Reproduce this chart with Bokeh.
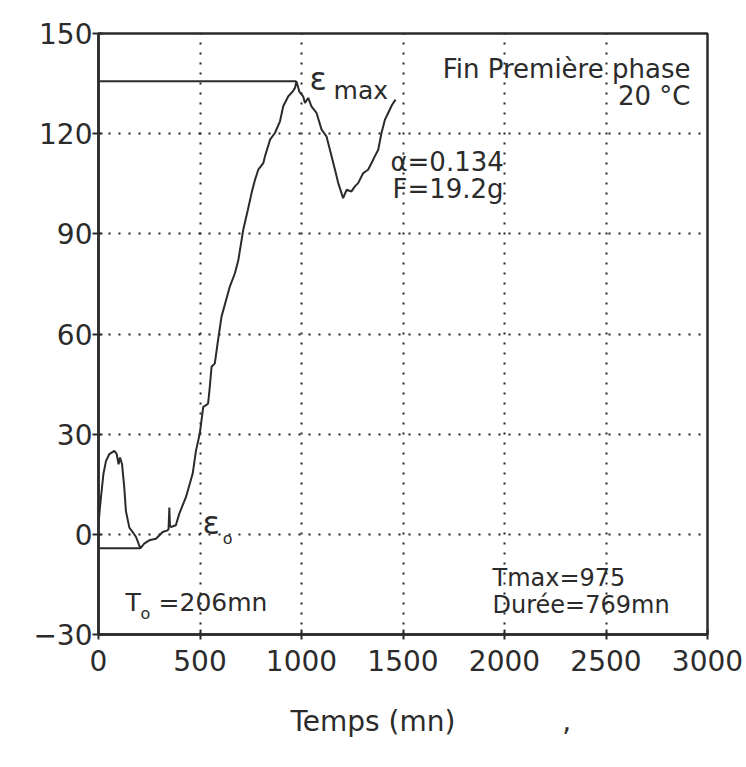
from bokeh.plotting import figure
from bokeh.models import Label, Range1d, FixedTicker, Title
from bokeh.embed import file_html
from bokeh.resources import INLINE

# ---- data ----
temps = [0, 7, 12, 24, 37, 53, 78, 90, 99, 106, 116, 127, 135, 152, 168, 185, 206,
         225, 250, 283, 316, 340, 345, 349, 352, 357, 381, 398, 431, 464, 480, 499,
         516, 528, 540, 548, 557, 573, 589, 606, 630, 647, 672, 689, 713, 735, 754,
         770, 787, 812, 820, 845, 869, 894, 910, 935, 955, 968, 975, 990, 1008, 1017,
         1033, 1049, 1074, 1099, 1123, 1140, 1165, 1181, 1197, 1205, 1222, 1246, 1263,
         1279, 1304, 1328, 1345, 1361, 1378, 1394, 1411, 1427, 1445, 1463]
deformation = [3, 8, 11, 18, 22, 24, 25, 24, 21, 23, 21, 14, 7, 2, 0.7, -0.8, -4.2,
               -2.8, -1.8, -1.3, 0.7, 1.2, 1.5, 8, 2.5, 2.2, 2.7, 6.2, 11.2, 18.2, 25, 30.2,
               38.2, 38.6, 39.2, 44, 50.2, 51.2, 58.2, 65.2, 70.5, 74.2, 78.2, 82.2, 91.2, 97, 102.2,
               106, 109.2, 111.2, 113.2, 118.2, 120.2, 123.7, 128.2, 131.2, 132.5, 133.7, 135.7, 132.5, 131.2, 129.2,
               130.7, 128.2, 126.2, 121.2, 119.2, 115.2, 109.2, 105.2, 102.2, 100.7, 103.2, 102.7, 104.2,
               105.2, 108.2, 109.2, 111.2, 113.2, 115.2, 120.2, 124.2, 126.2, 128.5, 130.2]

t_max = 975
e_max = 135.7
t_zero = 206
e_zero = -4.2

x_ticks = [0, 500, 1000, 1500, 2000, 2500, 3000]
y_ticks = [-30, 0, 30, 60, 90, 120, 150]
y_tick_labels = ["\u221230", "0", "30", "60", "90", "120", "150"]
x_title = "Temps (mn)"

INK = "#2b2b2b"
FONT = "DejaVu Sans"

p = figure(width=746, height=767, output_backend="svg", toolbar_location=None,
           x_range=Range1d(0, 3000), y_range=Range1d(-30, 150),
           min_border_left=98, min_border_right=39, min_border_top=33, min_border_bottom=133)
p.background_fill_color = "white"
p.border_fill_color = "white"
p.outline_line_color = INK
p.outline_line_width = 2.5

# axes
p.xaxis.ticker = FixedTicker(ticks=x_ticks)
p.yaxis.ticker = FixedTicker(ticks=y_ticks)
p.yaxis.major_label_overrides = {t: l for t, l in zip(y_ticks, y_tick_labels)}
for ax in (p.xaxis[0], p.yaxis[0]):
    ax.axis_line_color = INK
    ax.axis_line_width = 2.5
    ax.major_tick_line_color = INK
    ax.major_tick_line_width = 2
    ax.minor_tick_line_color = None
    ax.major_label_text_font = FONT
    ax.major_label_text_font_size = "28px"
    ax.major_label_text_color = INK
p.xaxis.major_tick_in = 5
p.xaxis.major_tick_out = 5
p.xaxis.major_label_standoff = 10
p.yaxis.major_tick_in = 4
p.yaxis.major_tick_out = 6
p.yaxis.major_label_standoff = 0

# x-axis title (with the small stray comma mark to its right), as a below title
p.add_layout(Title(text=x_title + "\u00a0" * 12 + ",", align="left", offset=192,
                   text_font=FONT, text_font_size="28px", text_font_style="normal",
                   text_color=INK, standoff=58), "below")

# dotted grid
for g in (p.xgrid[0], p.ygrid[0]):
    g.grid_line_color = "#222222"
    g.grid_line_dash = "2 8"
    g.grid_line_width = 2
p.xgrid.ticker = FixedTicker(ticks=x_ticks[1:-1])
p.ygrid.ticker = FixedTicker(ticks=y_ticks[1:-1])

# curve and reference lines
p.line(temps, deformation, line_color=INK, line_width=2)
p.line([0, t_max], [e_max, e_max], line_color=INK, line_width=2)
p.line([0, t_zero], [e_zero, e_zero], line_color=INK, line_width=2)


def lab(x, y, text, size="24px", align="left"):
    p.add_layout(Label(x=x, y=y, text=text, text_font=FONT, text_font_size=size,
                       text_color=INK, text_align=align, text_baseline="alphabetic"))


lab(1040, 136.5, "\u03b5", "32px")
lab(1158, 133.0, "max", "25px")
lab(2916, 139.5, "Fin Premi\u00e8re phase", "26px", align="right")
lab(2916, 131.4, "20 \u00b0C", "26px", align="right")
lab(1438, 111.4, "\u03b1=0.134", "26px")
lab(1448, 103.3, "F=19.2g", "26px")
lab(512, 3.3, "\u03b5", "32px")
lab(612, -1.2, "o", "16px")
lab(133, -20.4, "T", "25px")
lab(207, -23.6, "o", "16px")
lab(296, -20.4, "=206mn", "25px")
lab(1941, -13.2, "Tmax=975", "24px")
lab(1941, -21.3, "Dur\u00e9e=769mn", "24px")

html = file_html(p, INLINE)
open("out.html", "w").write(html)
